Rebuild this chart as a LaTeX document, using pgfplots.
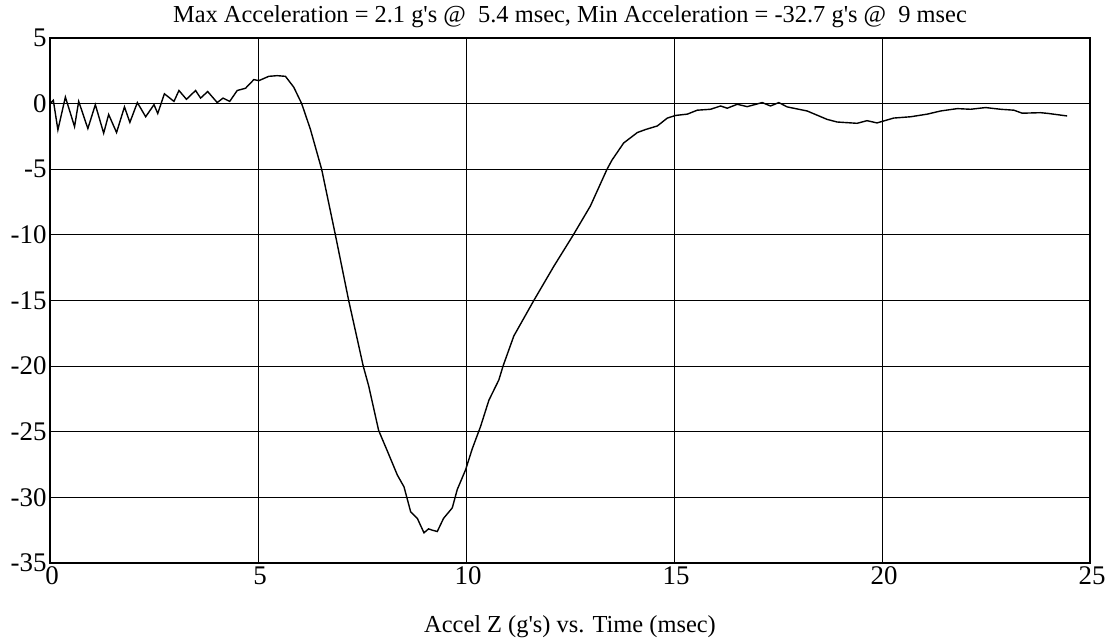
\documentclass[border=0pt]{standalone}
\usepackage{fontspec}
\setmainfont{Liberation Serif}
\usepackage{pgfplots}
\pgfplotsset{compat=1.18}
\newcommand{\bigfont}{\fontsize{24.5}{28}\selectfont}
\newcommand{\q}{\textquotesingle}
\begin{document}
\begin{tikzpicture}
\path[use as bounding box] (-50bp,-77bp) rectangle (1062bp,563bp);
\begin{axis}[
  at={(0,0)}, anchor=south west,
  scale only axis, width=1040bp, height=525bp,
  xmin=0, xmax=25, ymin=-35, ymax=5,
  xtick={0,5,...,25}, ytick={-35,-30,...,5},
  grid=major, major grid style={black, line width=1bp},
  axis line style={black, line width=1.6bp},
  major tick length=0pt,
  tick label style={font=\fontsize{27}{30}\selectfont},
  xticklabel style={xshift=2bp},
  /pgf/number format/assume math mode=true,
  title={Max Acceleration = 2.1 g\q s @~ 5.4 msec, Min Acceleration = -32.7 g\q s @~ 9 msec},
  title style={font=\bigfont, at={(axis description cs:0.5,1)}, anchor=base, yshift=10bp},
  xlabel={Accel Z (g\q s) vs. Time (msec)},
  xlabel style={font=\bigfont, at={(axis description cs:0.5,0)}, anchor=base, yshift=-69bp},
]
\addplot[black, line width=1.4bp] coordinates {
(0,0) (0.08,0.25) (0.19,-2.0) (0.37,0.5) (0.59,-1.75) (0.69,0.17) (0.91,-1.9)
(1.09,-0.08) (1.29,-2.25) (1.41,-0.83) (1.60,-2.2) (1.79,-0.25) (1.92,-1.43)
(2.10,0.08) (2.30,-1.0) (2.50,-0.08) (2.59,-0.75) (2.75,0.75) (2.98,0.17)
(3.10,1.0) (3.28,0.33) (3.50,1.0) (3.62,0.42) (3.79,0.92) (4.02,0.08)
(4.16,0.42) (4.32,0.17) (4.50,1.0) (4.70,1.17) (4.90,1.83) (5.02,1.75)
(5.26,2.08) (5.46,2.13) (5.66,2.08) (5.86,1.25) (6.05,0.0) (6.26,-1.96)
(6.53,-5) (6.86,-10) (7.18,-15) (7.53,-20) (7.66,-21.5) (7.90,-24.9)
(8.10,-26.4) (8.35,-28.3) (8.51,-29.2) (8.67,-31.1) (8.83,-31.6) (8.99,-32.7)
(9.10,-32.4) (9.19,-32.5) (9.31,-32.6) (9.46,-31.6) (9.67,-30.8) (9.79,-29.4)
(9.99,-27.9) (10.15,-26.3) (10.35,-24.6) (10.55,-22.6) (10.79,-21.05) (10.89,-20)
(11.15,-17.7) (11.63,-15) (12.11,-12.4) (12.58,-10) (12.99,-7.8) (13.39,-5)
(13.51,-4.3) (13.79,-3.0) (14.12,-2.2) (14.32,-1.97) (14.60,-1.7) (14.84,-1.1)
(15.04,-0.9) (15.32,-0.8) (15.56,-0.5) (15.88,-0.43) (16.12,-0.18) (16.28,-0.35)
(16.52,-0.05) (16.76,-0.23) (17.12,0.08) (17.32,-0.18) (17.52,0.08) (17.72,-0.25)
(18.20,-0.56) (18.68,-1.2) (18.92,-1.4) (19.40,-1.5) (19.64,-1.3) (19.88,-1.47)
(20.28,-1.1) (20.69,-1.0) (21.09,-0.8) (21.41,-0.56) (21.81,-0.38) (22.13,-0.43)
(22.49,-0.3) (22.85,-0.43) (23.17,-0.5) (23.37,-0.73) (23.81,-0.69) (24.00,-0.75)
(24.45,-0.94)
};
\end{axis}
\end{tikzpicture}
\end{document}
